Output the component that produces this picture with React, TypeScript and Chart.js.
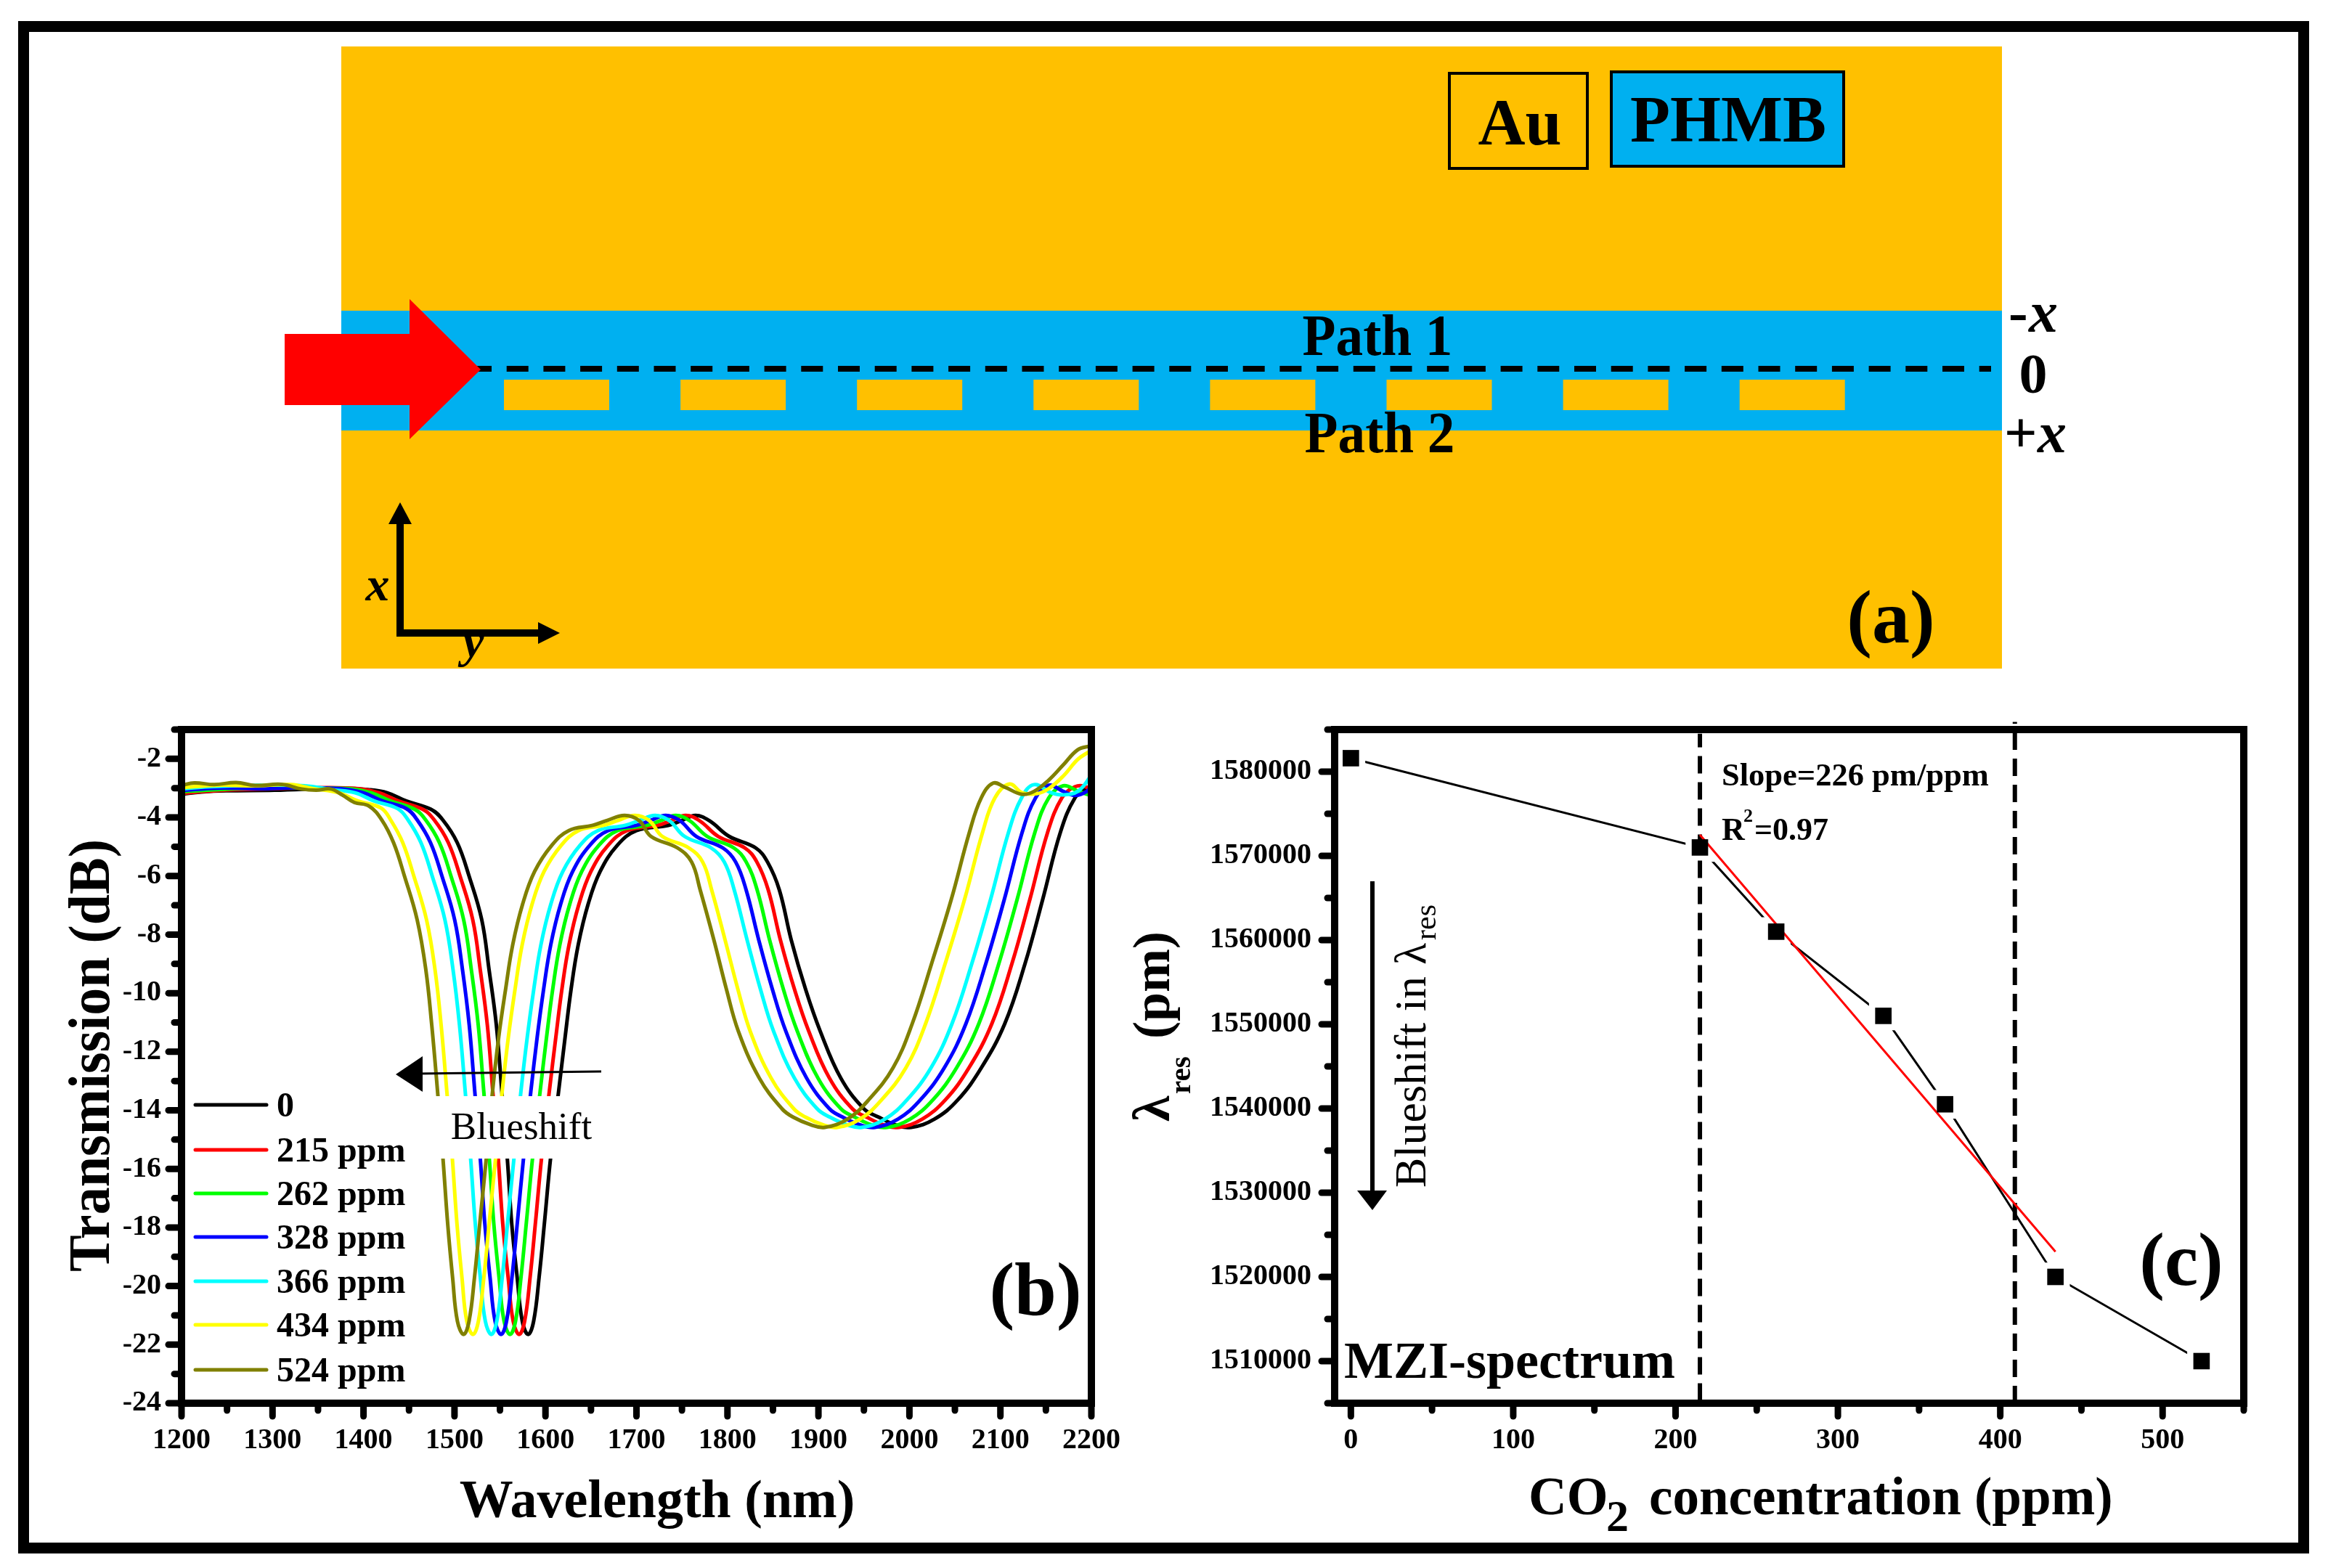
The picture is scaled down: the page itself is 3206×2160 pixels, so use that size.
import React, { useEffect, useRef } from "react";
import { Chart, registerables } from "chart.js";

Chart.register(...registerables);

// ---------- Panel (b): spectra ----------
const seriesLabels = ["0", "215 ppm", "262 ppm", "328 ppm", "366 ppm", "434 ppm", "524 ppm"];
const seriesColors = ["#000000", "#ff0000", "#00ff00", "#0000ff", "#00ffff", "#ffff00", "#808000"];

// dB levels shared by the main body of all the spectra
const bodyLevels = [-4.08, -4.86, -6.0, -7.5, -9.2, -11.09, -13.36, -15.63, -17.9, -19.74, -21.2, -21.65, -21.2, -19.7, -17.8, -15.63, -13.36, -11.5, -9.9, -8.35, -6.95, -5.85, -4.95, -4.45, -4.27, -4.1, -3.93, -4.11, -4.65, -5.04, -5.52, -6.47, -8.17, -9.88, -11.3, -12.9, -13.95, -14.23, -14.5, -14.58, -14.3, -13.65, -12.55, -11.05, -9.0, -6.8, -4.5, -3.33];

const wl0 = [1200, 1222, 1249, 1302, 1377, 1405, 1426, 1447, 1474, 1487, 1503, 1516, 1530, 1538, 1546, 1552, 1558, 1563, 1569, 1574.5, 1581, 1587, 1593, 1599, 1605.6, 1614.4, 1621.6, 1628, 1636, 1647, 1660, 1679, 1700, 1735, 1750, 1765, 1780, 1802, 1831, 1844, 1857, 1870, 1886, 1902, 1924.6, 1950, 1966, 1985, 2002, 2027.5, 2053, 2079, 2104.7, 2127, 2146.5, 2166, 2182, 2195, 2200];
const head0 = [-3.2, -3.13, -3.09, -3.07, -3.0, -3.05, -3.16, -3.44, -3.72];
const tail0 = [-3.0, -2.98];

const wl215 = [1200, 1240, 1300, 1360, 1395, 1417.3, 1438.3, 1465, 1477.6, 1493.2, 1506.1, 1520.1, 1528.3, 1536.1, 1542.1, 1548.1, 1553.1, 1559.1, 1564.5, 1571.1, 1577.1, 1583.1, 1589.1, 1595.7, 1604.2, 1611.4, 1617.9, 1625.9, 1636.9, 1649.9, 1668.9, 1689.6, 1723.4, 1738.5, 1754.1, 1769.2, 1790, 1819, 1832.3, 1844.8, 1858.1, 1873.8, 1889.4, 1912.1, 1937.4, 1952.8, 1972, 1988.7, 2014.1, 2039.3, 2065.4, 2090.5, 2112.6, 2132.4, 2152, 2167.6, 2182, 2195, 2200];
const head215 = [-3.18, -3.08, -3.02, -2.98, -3.02, -3.16, -3.44, -3.72];
const tail215 = [-2.95, -2.97, -3.2];

const wl262 = [1200, 1240, 1300, 1345, 1385, 1408.6, 1429.6, 1456.1, 1468.2, 1483.4, 1496.1, 1510.1, 1518.5, 1526.1, 1532.2, 1538.2, 1543.3, 1549.1, 1554.5, 1561.1, 1567.1, 1573.1, 1579.1, 1585.8, 1594.1, 1601.2, 1607.8, 1615.8, 1626.8, 1639.8, 1658.8, 1679.2, 1711.8, 1727, 1743.2, 1758.4, 1777.9, 1806.9, 1820.6, 1832.6, 1846.2, 1861.6, 1876.8, 1899.5, 1924.8, 1939.7, 1959, 1975.4, 2000.8, 2025.6, 2051.8, 2076.2, 2098.2, 2118.4, 2138, 2153.2, 2169, 2185, 2198, 2200];
const head262 = [-3.12, -3.05, -2.98, -3.0, -3.02, -3.16, -3.44, -3.72];
const tail262 = [-2.92, -3.1, -3.24, -3.25];

const wl328 = [1200, 1240, 1290, 1330, 1375, 1400, 1421, 1447.1, 1458.9, 1473.6, 1486.2, 1500.2, 1508.8, 1516.2, 1522.3, 1528.3, 1533.4, 1539.2, 1544.6, 1551.2, 1557.2, 1563.2, 1569.2, 1575.9, 1583.9, 1590.9, 1597.8, 1605.8, 1616.8, 1629.8, 1648.8, 1668.8, 1700.1, 1715.6, 1732.2, 1747.7, 1765.9, 1794.9, 1809, 1820.5, 1834.3, 1849.5, 1864.2, 1887, 1912.2, 1926.5, 1946, 1962.1, 1987.4, 2011.8, 2038.3, 2062, 2083.9, 2104.3, 2124, 2138.7, 2153, 2169, 2182, 2195, 2200];
const head328 = [-3.08, -3.0, -3.02, -2.98, -3.02, -3.16, -3.44, -3.7];
const tail328 = [-2.9, -3.11, -3.25, -3.11, -2.9];

const wl366 = [1200, 1230, 1285, 1335, 1365, 1390.7, 1411.7, 1437.5, 1448.8, 1463.1, 1475.5, 1489.5, 1498.4, 1505.5, 1511.8, 1517.7, 1522.9, 1528.5, 1533.9, 1540.5, 1546.5, 1552.5, 1558.5, 1565.4, 1573, 1580, 1587, 1595, 1606, 1619, 1638, 1657.6, 1687.7, 1703.3, 1720.5, 1736.1, 1753, 1782, 1796.5, 1807.4, 1821.5, 1836.4, 1850.7, 1873.6, 1898.7, 1912.4, 1932, 1947.8, 1973.1, 1997.1, 2023.7, 2046.7, 2068.5, 2089.2, 2109, 2123.3, 2137, 2156, 2169, 2185, 2198, 2200];
const head366 = [-3.03, -2.95, -2.9, -2.92, -3.05, -3.16, -3.44, -3.7];
const tail366 = [-2.88, -3.16, -3.23, -3.11, -2.64, -2.45];

const wl434 = [1200, 1240, 1280, 1320, 1345, 1373, 1394, 1419.3, 1429.7, 1443.1, 1455.3, 1469.3, 1478.6, 1485.3, 1491.6, 1497.6, 1502.8, 1508.3, 1513.5, 1520.3, 1526.3, 1532.3, 1538.3, 1545.2, 1552.4, 1559.2, 1566.4, 1574.4, 1585.4, 1598.4, 1617.4, 1636.4, 1664, 1679.9, 1698.3, 1714.2, 1728.5, 1757.5, 1772.7, 1782.6, 1797.3, 1811.6, 1825, 1848, 1873, 1885.6, 1905.5, 1920.8, 1945.8, 1969.2, 1996.1, 2017.7, 2039.2, 2060.6, 2080.5, 2094, 2110, 2124, 2140, 2153, 2169, 2185, 2198, 2200];
const head434 = [-2.98, -2.9, -2.92, -2.88, -3.02, -3.16, -3.44, -3.68];
const tail434 = [-2.86, -3.16, -3.19, -3.02, -2.59, -2.02, -1.74, -1.68];

const wl524 = [1200, 1214, 1236, 1260, 1281, 1310, 1332, 1348, 1364, 1377, 1390, 1406, 1420, 1433, 1445, 1459, 1468.5, 1475, 1481.4, 1487.3, 1492.6, 1498, 1503.2, 1510, 1516, 1522, 1528, 1535, 1541.8, 1548.6, 1556, 1564, 1575, 1588, 1607, 1625.6, 1652, 1668, 1687, 1703, 1716, 1745, 1760.6, 1770, 1785, 1799, 1812, 1835, 1860, 1872, 1892, 1907, 1932, 1955, 1982, 2003, 2024.3, 2046, 2066, 2079, 2092, 2105, 2124, 2137, 2153, 2169, 2185, 2198, 2200];
const head524 = [-2.91, -2.82, -2.88, -2.81, -2.91, -2.87, -3.03, -3.07, -3.03, -3.24, -3.49, -3.61];
const tail524 = [-2.83, -2.97, -3.21, -3.11, -2.73, -2.21, -1.69, -1.57, -1.6];

const wavelengths = [wl0, wl215, wl262, wl328, wl366, wl434, wl524];
const heads = [head0, head215, head262, head328, head366, head434, head524];
const tails = [tail0, tail215, tail262, tail328, tail366, tail434, tail524];

const bXMajor = [1200, 1300, 1400, 1500, 1600, 1700, 1800, 1900, 2000, 2100, 2200];
const bXMinor = [1250, 1350, 1450, 1550, 1650, 1750, 1850, 1950, 2050, 2150];
const bYMajor = [-24, -22, -20, -18, -16, -14, -12, -10, -8, -6, -4, -2];
const bYMinor = [-23, -21, -19, -17, -15, -13, -11, -9, -7, -5, -3, -1];

// ---------- Panel (c): resonance wavelength ----------
const concentration = [0, 215, 262, 328, 366, 434, 524];
const lambdaRes = [1581600, 1571000, 1561000, 1551000, 1540500, 1520000, 1510000];
const fitX = [215, 434];
const fitY = [1572500, 1523000];
const boundaryA = [215, 215];
const boundaryAY = [1505300, 1584500];
const boundaryB = [409, 409];
const boundaryBY = [1505000, 1585900];
const cXMajor = [0, 100, 200, 300, 400, 500];
const cXMinor = [50, 150, 250, 350, 450, 550];
const cYMajor = [1510000, 1520000, 1530000, 1540000, 1550000, 1560000, 1570000, 1580000];
const cYMinor = [1505000, 1515000, 1525000, 1535000, 1545000, 1555000, 1565000, 1575000, 1585000];

const SERIF = "'Liberation Serif'";
const W = 3206;
const H = 2160;

type Ctx = CanvasRenderingContext2D;

function txt(ctx: Ctx, s: string, x: number, y: number, font: string, opts: { align?: CanvasTextAlign; rot?: number; sx?: number; color?: string } = {}) {
  ctx.save();
  ctx.translate(x, y);
  if (opts.rot) ctx.rotate(opts.rot);
  if (opts.sx) ctx.scale(opts.sx, 1);
  ctx.font = font;
  ctx.textAlign = opts.align || "center";
  ctx.textBaseline = "alphabetic";
  ctx.fillStyle = opts.color || "#000";
  ctx.fillText(s, 0, 0);
  ctx.restore();
}

function tri(ctx: Ctx, pts: number[][], color = "#000") {
  ctx.fillStyle = color;
  ctx.beginPath();
  pts.forEach((p, i) => (i ? ctx.lineTo(p[0], p[1]) : ctx.moveTo(p[0], p[1])));
  ctx.closePath();
  ctx.fill();
}

function seg(ctx: Ctx, x1: number, y1: number, x2: number, y2: number, lw: number, color = "#000", cap: CanvasLineCap = "butt") {
  ctx.strokeStyle = color;
  ctx.lineWidth = lw;
  ctx.lineCap = cap;
  ctx.beginPath();
  ctx.moveTo(x1, y1);
  ctx.lineTo(x2, y2);
  ctx.stroke();
}

function drawFrameAndTicks(chart: any, xMajor: number[], xMinor: number[], yMajor: number[], yMinor: number[]) {
  const ctx: Ctx = chart.ctx;
  const { left, right, top, bottom } = chart.chartArea;
  const xs = chart.scales.x;
  const ys = chart.scales.y;
  const lw = 9;
  xMajor.forEach((v) => { const p = xs.getPixelForValue(v); seg(ctx, p, bottom, p, bottom + 18, lw, "#000", "round"); });
  xMinor.forEach((v) => { const p = xs.getPixelForValue(v); seg(ctx, p, bottom, p, bottom + 10, lw, "#000", "round"); });
  yMajor.forEach((v) => { const p = ys.getPixelForValue(v); seg(ctx, left, p, left - 18, p, lw, "#000", "round"); });
  yMinor.forEach((v) => { const p = ys.getPixelForValue(v); seg(ctx, left, p, left - 10, p, lw, "#000", "round"); });
  ctx.strokeStyle = "#000";
  ctx.lineWidth = 10;
  ctx.lineCap = "butt";
  ctx.strokeRect(left, top, right - left, bottom - top);
}

const panelAPlugin = {
  id: "panelA",
  afterDraw(chart: any) {
    const ctx: Ctx = chart.ctx;
    ctx.save();
    const GOLD = "#FFC000";
    const BLUE = "#00B0F0";
    // outer frame
    ctx.strokeStyle = "#000";
    ctx.lineWidth = 15;
    ctx.strokeRect(32.5, 36.5, 3140, 2096);
    // substrate
    ctx.fillStyle = GOLD;
    ctx.fillRect(470, 64, 2287, 857);
    ctx.fillStyle = BLUE;
    ctx.fillRect(470, 428, 2287, 165);
    // gold stubs
    ctx.fillStyle = GOLD;
    for (let i = 0; i < 8; i++) ctx.fillRect(694 + 243.1 * i, 523, 145, 42);
    // legend boxes
    ctx.lineWidth = 4;
    ctx.strokeStyle = "#000";
    ctx.strokeRect(1996, 101, 190, 131);
    ctx.fillStyle = BLUE;
    ctx.fillRect(2219, 99, 320, 130);
    ctx.strokeRect(2219, 99, 320, 130);
    txt(ctx, "Au", 2093, 199, `bold 90px ${SERIF}`);
    txt(ctx, "PHMB", 2380, 195, `bold 90px ${SERIF}`);
    // dashed centre line
    ctx.save();
    ctx.setLineDash([30, 20.7]);
    seg(ctx, 647, 508, 2742, 508, 8);
    ctx.restore();
    // red arrow
    tri(ctx, [[392, 460], [564, 460], [564, 412], [662, 509], [564, 605], [564, 558], [392, 558]], "#ff0000");
    // path labels
    txt(ctx, "Path 1", 1897, 489, `bold 80px ${SERIF}`, { sx: 0.94 });
    txt(ctx, "Path 2", 1900, 623, `bold 80px ${SERIF}`, { sx: 0.94 });
    // side labels
    txt(ctx, "-", 2766, 457, `bold 80px ${SERIF}`, { align: "left" });
    txt(ctx, "x", 2794, 457, `italic bold 80px ${SERIF}`, { align: "left" });
    txt(ctx, "0", 2800, 541, `bold 78px ${SERIF}`);
    txt(ctx, "+", 2760, 623, `bold 80px ${SERIF}`, { align: "left" });
    txt(ctx, "x", 2806, 623, `italic bold 80px ${SERIF}`, { align: "left" });
    // axes triad
    seg(ctx, 551, 718, 551, 877, 10);
    tri(ctx, [[551, 692], [567, 722], [535, 722]]);
    seg(ctx, 546, 872, 745, 872, 10);
    tri(ctx, [[771, 872], [741, 857], [741, 887]]);
    txt(ctx, "x", 520, 827, `italic bold 66px ${SERIF}`);
    txt(ctx, "y", 652, 905, `italic bold 66px ${SERIF}`);
    txt(ctx, "(a)", 2604, 885, `bold 104px ${SERIF}`);
    ctx.restore();
  },
};

const panelBPlugin = {
  id: "panelB",
  afterDatasetsDraw(chart: any) {
    const ctx: Ctx = chart.ctx;
    ctx.save();
    // white label band
    ctx.fillStyle = "#fff";
    ctx.fillRect(570, 1510, 270, 86);
    // arrow
    seg(ctx, 575, 1479, 828, 1476, 3);
    tri(ctx, [[545, 1480], [582, 1455], [582, 1504]]);
    txt(ctx, "Blueshift", 718, 1569, `53px ${SERIF}`);
    // legend
    const legendY = [1522, 1584, 1644, 1704, 1765, 1825, 1887];
    seriesLabels.forEach((label, i) => {
      seg(ctx, 269, legendY[i], 367, legendY[i], 5, seriesColors[i], "round");
      txt(ctx, label, 381, legendY[i] + 16, `bold 48px ${SERIF}`, { align: "left" });
    });
    txt(ctx, "(b)", 1426, 1811, `bold 104px ${SERIF}`);
    ctx.restore();
  },
  afterDraw(chart: any) {
    const ctx: Ctx = chart.ctx;
    ctx.save();
    drawFrameAndTicks(chart, bXMajor, bXMinor, bYMajor, bYMinor);
    txt(ctx, "Wavelength (nm)", 905, 2090, `bold 74px ${SERIF}`);
    txt(ctx, "Transmission (dB)", 150, 1454, `bold 80px ${SERIF}`, { rot: -Math.PI / 2, sx: 0.95 });
    ctx.restore();
  },
};

const panelCPlugin = {
  id: "panelC",
  afterDatasetsDraw(chart: any) {
    const ctx: Ctx = chart.ctx;
    ctx.save();
    txt(ctx, "Slope=226 pm/ppm", 2371, 1082, `bold 44.5px ${SERIF}`, { align: "left" });
    txt(ctx, "R", 2371, 1157, `bold 44px ${SERIF}`, { align: "left" });
    txt(ctx, "2", 2401, 1132, `bold 26px ${SERIF}`, { align: "left" });
    txt(ctx, "=0.97", 2416, 1157, `bold 44px ${SERIF}`, { align: "left" });
    txt(ctx, "MZI-spectrum", 1851, 1898, `bold 72px ${SERIF}`, { align: "left" });
    txt(ctx, "(c)", 3004, 1770, `bold 104px ${SERIF}`);
    // shift arrow
    seg(ctx, 1890, 1214, 1890, 1645, 6);
    tri(ctx, [[1890, 1667], [1869, 1640], [1910, 1640]]);
    // rotated note
    const up = -Math.PI / 2;
    txt(ctx, "Blueshift in ", 1963, 1636, `62px ${SERIF}`, { align: "left", rot: up });
    txt(ctx, "λ", 1963, 1329, `62px ${SERIF}`, { align: "left", rot: up });
    txt(ctx, "res", 1977, 1295, `42px ${SERIF}`, { align: "left", rot: up });
    ctx.restore();
  },
  afterDraw(chart: any) {
    const ctx: Ctx = chart.ctx;
    ctx.save();
    drawFrameAndTicks(chart, cXMajor, cXMinor, cYMajor, cYMinor);
    txt(ctx, "CO", 2105, 2086, `bold 73px ${SERIF}`, { align: "left" });
    txt(ctx, "2", 2212, 2109, `bold 62px ${SERIF}`, { align: "left" });
    txt(ctx, "concentration (ppm)", 2271, 2086, `bold 73px ${SERIF}`, { align: "left" });
    const up = -Math.PI / 2;
    txt(ctx, "λ", 1610, 1545, `bold 72px ${SERIF}`, { align: "left", rot: up });
    txt(ctx, "res", 1639, 1507, `bold 41px ${SERIF}`, { align: "left", rot: up });
    txt(ctx, "(pm)", 1610, 1431, `bold 72px ${SERIF}`, { align: "left", rot: up });
    ctx.restore();
  },
};

function axis(min: number, max: number, majors: number[], horizontal: boolean, padding: number, thick: number) {
  return {
    type: "linear" as const,
    min,
    max,
    afterBuildTicks: (scale: any) => { scale.ticks = majors.map((v) => ({ value: v })); },
    afterFit: (scale: any) => { if (horizontal) scale.height = thick; else scale.width = thick; },
    border: { display: false },
    grid: { display: true, drawOnChartArea: false, drawTicks: true, tickLength: 22, tickColor: "rgba(0,0,0,0)" },
    ticks: {
      autoSkip: false,
      maxRotation: 0,
      minRotation: 0,
      padding,
      color: "#000",
      font: { family: SERIF, weight: "bold" as const, size: 40 },
      callback: (v: any) => String(v),
    },
  };
}

export default function App() {
  const aRef = useRef<HTMLCanvasElement>(null);
  const bRef = useRef<HTMLCanvasElement>(null);
  const cRef = useRef<HTMLCanvasElement>(null);

  useEffect(() => {
    const common = {
      responsive: false,
      animation: false as const,
      devicePixelRatio: 1,
      plugins: { legend: { display: false }, tooltip: { enabled: false }, title: { display: false } },
      elements: { point: { radius: 0 } },
    };

    const chartA = new Chart(aRef.current!, {
      type: "scatter",
      data: { datasets: [] },
      options: { ...common, scales: { x: { display: false }, y: { display: false } } },
      plugins: [panelAPlugin],
    } as any);

    const chartB = new Chart(bRef.current!, {
      type: "line",
      data: {
        datasets: seriesLabels.map((label, i) => {
          const levels = [...heads[i], ...bodyLevels, ...tails[i]];
          return {
            label,
            data: wavelengths[i].map((x, k) => ({ x, y: levels[k] })),
            borderColor: seriesColors[i],
            backgroundColor: seriesColors[i],
            borderWidth: 5,
            pointRadius: 0,
            tension: 0.4,
            order: 6 - i,
          };
        }),
      },
      options: {
        ...common,
        layout: { autoPadding: false, padding: { left: 250 - 110, right: W - 1503, top: 1005, bottom: H - 1933 - 90 } },
        scales: {
          x: axis(1200, 2200, bXMajor, true, 6, 90),
          y: axis(-24, -1, bYMajor, false, 6, 110),
        },
      },
      plugins: [panelBPlugin],
    } as any);

    const chartC = new Chart(cRef.current!, {
      type: "line",
      data: {
        datasets: [
          {
            label: "λres",
            data: concentration.map((x, k) => ({ x, y: lambdaRes[k] })),
            borderColor: "#000",
            borderWidth: 3,
            tension: 0,
            pointStyle: "rect",
            pointRadius: 28,
            pointBackgroundColor: "#fff",
            pointBorderWidth: 0,
            order: 4,
          },
          {
            label: "boundary A",
            data: boundaryA.map((x, k) => ({ x, y: boundaryAY[k] })),
            borderColor: "#000",
            borderWidth: 6,
            borderDash: [24, 12],
            pointRadius: 0,
            clip: false,
            order: 3,
          },
          {
            label: "boundary B",
            data: boundaryB.map((x, k) => ({ x, y: boundaryBY[k] })),
            borderColor: "#000",
            borderWidth: 6,
            borderDash: [24, 12],
            pointRadius: 0,
            clip: false,
            order: 3,
          },
          {
            label: "fit",
            data: fitX.map((x, k) => ({ x, y: fitY[k] })),
            borderColor: "#ff0000",
            borderWidth: 3,
            pointRadius: 0,
            order: 2,
          },
          {
            label: "markers",
            data: concentration.map((x, k) => ({ x, y: lambdaRes[k] })),
            showLine: false,
            pointStyle: "rect",
            pointRadius: 16,
            pointBackgroundColor: "#000",
            pointBorderWidth: 0,
            order: 1,
          },
        ],
      },
      options: {
        ...common,
        layout: { autoPadding: false, padding: { left: 1838 - 170, right: W - 3090, top: 1005, bottom: H - 1933 - 90 } },
        scales: {
          x: axis(-10, 550, cXMajor, true, 6, 90),
          y: axis(1505000, 1585000, cYMajor, false, 10, 170),
        },
      },
      plugins: [panelCPlugin],
    } as any);

    return () => {
      chartA.destroy();
      chartB.destroy();
      chartC.destroy();
    };
  }, []);

  const layer: React.CSSProperties = { position: "absolute", left: 0, top: 0, width: W, height: H };
  return (
    <div style={{ position: "absolute", left: 0, top: 0, width: W, height: H, background: "#fff", overflow: "hidden" }}>
      <canvas ref={aRef} width={W} height={H} style={layer} />
      <canvas ref={bRef} width={W} height={H} style={layer} />
      <canvas ref={cRef} width={W} height={H} style={layer} />
    </div>
  );
}
